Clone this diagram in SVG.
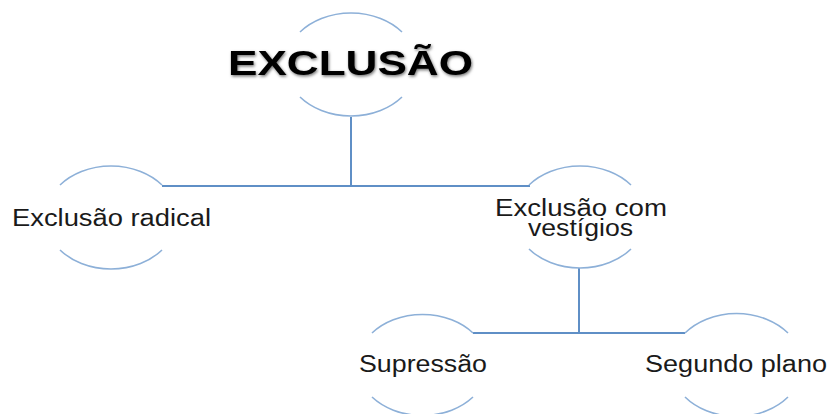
<svg xmlns="http://www.w3.org/2000/svg" width="829" height="414" viewBox="0 0 829 414">
  <style>
    .arc { fill: none; stroke: #8db0d8; stroke-width: 1.6; }
    .conn { fill: none; stroke: #5f8fc6; stroke-width: 2; }
    .lbl { font-family: "Liberation Sans", Arial, sans-serif; font-size: 23px; fill: #1a1a1a; }
    .title { font-family: "Liberation Sans", Arial, sans-serif; font-size: 35px; font-weight: bold; fill: #000; }
  </style>
  <defs>
    <filter id="shadow" x="-10%" y="-30%" width="120%" height="160%">
      <feDropShadow dx="1" dy="1.5" stdDeviation="1.4" flood-color="#000" flood-opacity="0.55"/>
    </filter>
  </defs>
  <rect width="829" height="414" fill="#fff"/>

  <g id="connectors">
    <path class="conn" d="M351,117 V186"/>
    <path class="conn" d="M162,186 H530"/>
    <path class="conn" d="M579,268 V333"/>
    <path class="conn" d="M473,333 H685"/>
  </g>

  <g id="node-exclusao">
    <path class="arc" d="M300,32 A66,52 0 0 1 402,32"/>
    <path class="arc" d="M300,97 A66,52 0 0 0 402,97"/>
    <text class="title" x="228" y="75" textLength="245" lengthAdjust="spacingAndGlyphs" filter="url(#shadow)">EXCLUSÃO</text>
  </g>

  <g id="node-radical">
    <path class="arc" d="M60,185 A66,52 0 0 1 162,185"/>
    <path class="arc" d="M60,250 A66,52 0 0 0 162,250"/>
    <text class="lbl" x="12" y="226" textLength="199" lengthAdjust="spacingAndGlyphs">Exclusão radical</text>
  </g>

  <g id="node-vestigios">
    <path class="arc" d="M529,185 A66,52 0 0 1 631,185"/>
    <path class="arc" d="M529,249 A66,52 0 0 0 631,249"/>
    <text class="lbl" x="495" y="216" textLength="172" lengthAdjust="spacingAndGlyphs">Exclusão com</text>
    <text class="lbl" x="528" y="235.5" textLength="105" lengthAdjust="spacingAndGlyphs">vestígios</text>
  </g>

  <g id="node-supressao">
    <path class="arc" d="M372,333 A66,52 0 0 1 473,333"/>
    <path class="arc" d="M372,397 A66,52 0 0 0 473,397"/>
    <text class="lbl" x="359" y="372" textLength="128" lengthAdjust="spacingAndGlyphs">Supressão</text>
  </g>

  <g id="node-segundo">
    <path class="arc" d="M685,333 A66,52 0 0 1 788,333"/>
    <path class="arc" d="M685,397 A66,52 0 0 0 788,397"/>
    <text class="lbl" x="645" y="372" textLength="182" lengthAdjust="spacingAndGlyphs">Segundo plano</text>
  </g>
</svg>
